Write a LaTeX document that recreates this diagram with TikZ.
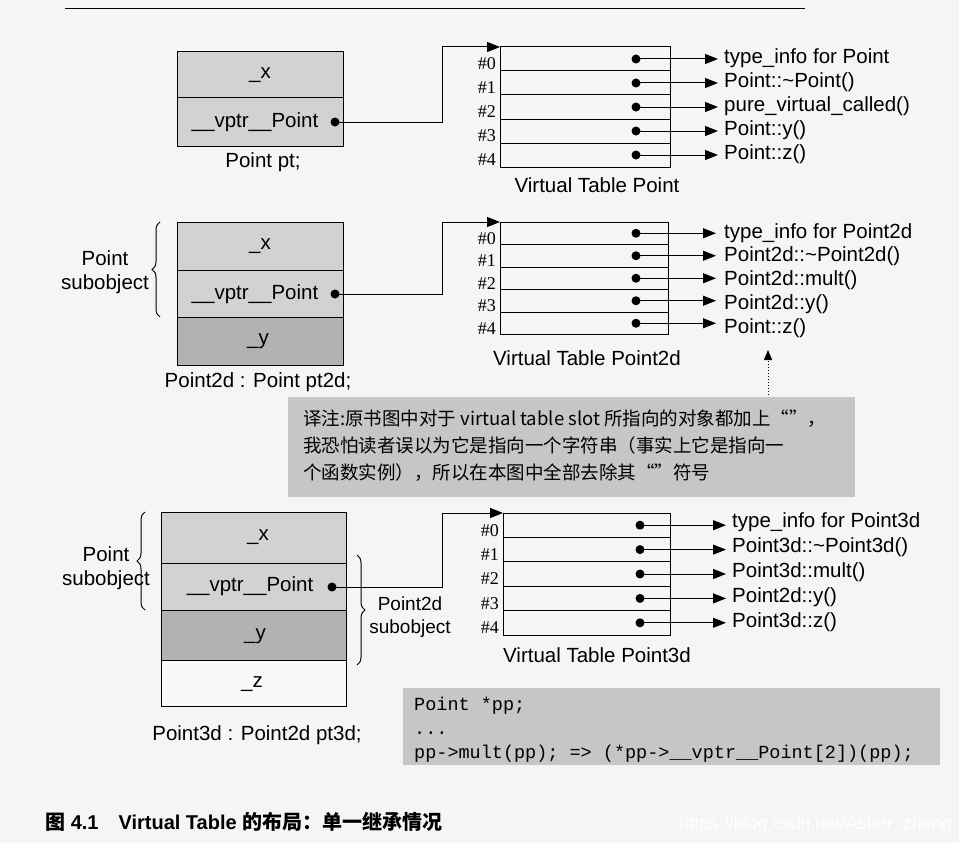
\documentclass[tikz,border=0pt]{standalone}
\usepackage{fontspec}
\setmainfont{Liberation Sans}
\setmonofont{Liberation Mono}
\newfontfamily\cjk{Noto Sans CJK SC}
\newfontfamily\serifnum{Liberation Serif}
\usetikzlibrary{decorations.pathreplacing,arrows.meta}
\begin{document}
\begin{tikzpicture}[x=1pt,y=-1pt,
  lbl/.style={font=\fontsize{20.5}{24}\selectfont,inner sep=0},
  num/.style={font=\fontsize{18}{20}\selectfont\serifnum,inner sep=0},
  ptr/.style={line width=1pt,-{Triangle[length=13pt,width=10pt]}},
  dotn/.style={circle,fill=black,inner sep=0,minimum size=9pt},
  brace/.style={decorate,decoration={brace,amplitude=8pt},line width=1pt},
  light/.style={fill=gray!35},dark/.style={fill=gray!60}]
\useasboundingbox[fill=gray!8] (0,0) rectangle (959,843);
\draw[line width=0.8pt] (65,8) -- (805,8);
% ---------- object 1
\draw[light,line width=1pt] (177,52) rectangle (343,146);
\draw[line width=1pt] (177,98) -- (343,98);
\node[lbl] (o1x) at (260,75) {\_x};
\node[lbl] (o1v) at (255,122) {\_\_vptr\_\_Point};
\node[dotn] (d1) at (335,122) {};
\node[lbl] (o1l) at (263,162) {Point pt;};
% ---------- object 2
\draw[light,line width=1pt] (177,222) rectangle (343,317);
\draw[dark,line width=1pt] (177,317) rectangle (343,365);
\draw[line width=1pt] (177,270) -- (343,270);
\node[lbl] (o2x) at (260,246) {\_x};
\node[lbl] (o2v) at (255,294) {\_\_vptr\_\_Point};
\node[lbl] (o2y) at (258,341) {\_y};
\node[dotn] (d2) at (335,294) {};
\node[lbl] (o2l) at (258,382) {Point2d : Point pt2d;};
\draw[brace] (160,317) -- (160,222);
\node[lbl,align=center] (b2) at (105,272) {Point\\subobject};
% ---------- object 3
\draw[light,line width=1pt] (161,512) rectangle (346,610);
\draw[dark,line width=1pt] (161,610) rectangle (346,660);
\draw[fill=gray!5,line width=1pt] (161,660) rectangle (346,706);
\draw[line width=1pt] (161,563) -- (346,563);
\node[lbl] (o3x) at (258,537) {\_x};
\node[lbl] (o3v) at (250,586) {\_\_vptr\_\_Point};
\node[lbl] (o3y) at (255,636) {\_y};
\node[lbl] (o3z) at (252,684) {\_z};
\node[dotn] (d3) at (332,587) {};
\node[lbl] (o3l) at (257,735) {Point3d : Point2d pt3d;};
\draw[brace] (145,610) -- (145,512);
\node[lbl,align=center] (b3) at (106,568) {Point\\subobject};
\draw[brace] (357,555) -- (357,665);
\node[align=center,inner sep=0,font=\fontsize{19}{23}\selectfont] (b4) at (410,617) {Point2d\\subobject};
% ---------- tables
\foreach \t/\xl/\xr/\yt/\h/\dx/\tx [count=\k] in {
  1/500/670/47/24/636/718,
  2/500/668/222/22.5/636/716,
  3/503/670/513/24.4/640/726}{
  \coordinate (T\t) at (\xl,\yt);
  \draw[line width=1pt] (\xl,\yt) rectangle (\xr,\yt+5*\h);
  \foreach \r in {1,...,4} \draw[line width=1pt] (\xl,\yt+\r*\h) -- (\xr,\yt+\r*\h);
  \foreach \r in {0,...,4}{
    \node[num,anchor=east] (n\t\r) at (\xl-4,\yt+\r*\h+\h/2+5) {\#\r};
    \node[dotn] (s\t\r) at (\dx,\yt+\r*\h+\h/2) {};
    \coordinate (e\t\r) at (\tx,\yt+\r*\h+\h/2);
    \draw[ptr] (s\t\r.center) -- (e\t\r);
  }
}
\node[lbl,anchor=west] at (724,58) {type\_info for Point};
\node[lbl,anchor=west] at (724,82) {Point::\textasciitilde Point()};
\node[lbl,anchor=west] at (724,106) {pure\_virtual\_called()};
\node[lbl,anchor=west] at (724,130) {Point::y()};
\node[lbl,anchor=west] at (724,154) {Point::z()};
\node[lbl] (v1) at (597,185) {Virtual Table Point};
\node[lbl,anchor=west] at (724,233) {type\_info for Point2d};
\node[lbl,anchor=west] at (724,256) {Point2d::\textasciitilde Point2d()};
\node[lbl,anchor=west] at (724,280) {Point2d::mult()};
\node[lbl,anchor=west] at (724,304) {Point2d::y()};
\node[lbl,anchor=west] at (724,328) {Point::z()};
\node[lbl] (v2) at (587,358) {Virtual Table Point2d};
\node[lbl,anchor=west] at (732,522) {type\_info for Point3d};
\node[lbl,anchor=west] at (732,547) {Point3d::\textasciitilde Point3d()};
\node[lbl,anchor=west] at (732,572) {Point3d::mult()};
\node[lbl,anchor=west] at (732,597) {Point2d::y()};
\node[lbl,anchor=west] at (732,622) {Point3d::z()};
\node[lbl] (v3) at (597,655) {Virtual Table Point3d};
% object -> table pointers
\draw[ptr] (d1.center) -- (442,122) |- (T1);
\draw[ptr] (d2.center) -- (442,294) |- (T2);
\draw[ptr] (d3.center) -- (442,587) |- (T3);
% note
\node[fill=gray!45,minimum width=567pt,minimum height=100pt,anchor=north west,inner sep=0] (note) at (288,397) {};
\node[anchor=north west,align=left,inner sep=0,font=\cjk\fontsize{18.5}{27}\selectfont] (nt) at (303,410)
 {译注:原书图中对于 virtual table slot 所指向的对象都加上“”，\\我恐怕读者误以为它是指向一个字符串（事实上它是指向一\\个函数实例），所以在本图中全部去除其“”符号};
\coordinate (na) at (768,395);
\draw[line width=1pt,dotted,-{Triangle[length=10pt,width=8pt]}] (na) -- (768,350);
% code
\node[fill=gray!45,minimum width=537pt,minimum height=77pt,anchor=north west,inner sep=0] (code) at (403,688) {};
\node[anchor=north west,align=left,inner sep=0,font=\ttfamily\fontsize{18.5}{24}\selectfont] (ct) at (414,697)
 {Point *pp;\\...\\pp->mult(pp); => (*pp->\_\_vptr\_\_Point[2])(pp);};
% caption
\node[anchor=west,inner sep=0,font=\bfseries\fontsize{20}{22}\selectfont] (cap) at (45,822) {{\cjk 图} 4.1\quad Virtual Table {\cjk 的布局：单一继承情况}};
\node[anchor=east,inner sep=0,text=white,font=\fontsize{18}{20}\selectfont] (wm) at (952,825) {https://blog.csdn.net/Asher\_zheng};
\end{tikzpicture}
\end{document}
